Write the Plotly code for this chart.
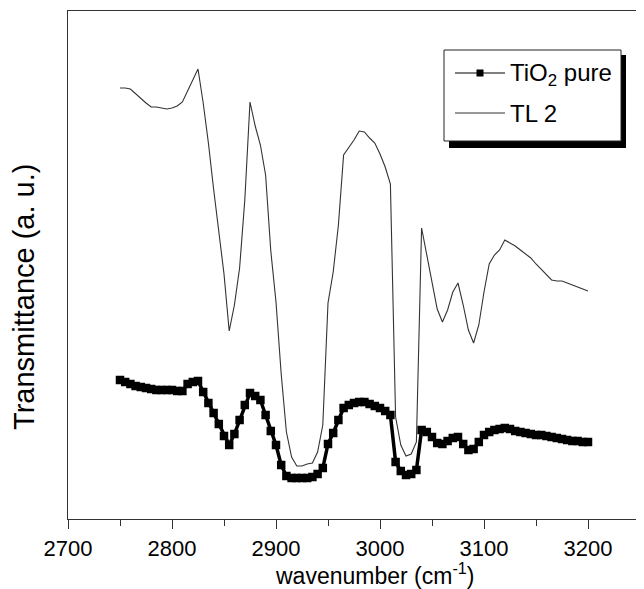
import plotly.graph_objects as go

# ---- data ----
wavenumber = list(range(2750, 3201, 5))

tio2_pure = [
    27.8, 27.4, 27.0, 26.6, 26.4, 26.2, 26.0, 25.8, 25.8, 25.8,
    25.8, 25.6, 25.6, 27.0, 27.4, 27.6, 25.4, 23.2, 21.2, 19.0,
    16.6, 14.8, 17.0, 19.8, 22.8, 25.2, 24.6, 23.8, 20.8, 17.6,
    14.8, 10.8, 8.6, 8.2, 8.2, 8.2, 8.2, 8.4, 9.0, 10.2,
    15.0, 17.2, 19.8, 22.2, 22.8, 23.2, 23.4, 23.4, 23.0, 22.6,
    22.2, 21.6, 20.8, 11.4, 9.6, 8.8, 9.0, 9.8, 17.8, 17.4,
    16.4, 15.2, 15.0, 15.6, 16.2, 16.4, 15.0, 13.8, 14.0, 15.4,
    16.8, 17.4, 17.8, 18.0, 18.2, 18.0, 17.6, 17.4, 17.2, 17.0,
    16.8, 16.8, 16.6, 16.4, 16.2, 16.0, 15.8, 15.6, 15.6, 15.4,
    15.4,
]

tl2 = [
    86.2, 86.2, 86.0, 85.0, 84.0, 83.2, 82.4, 82.4, 82.2, 82.0,
    82.2, 82.6, 83.4, 85.6, 87.8, 90.0, 83.2, 75.2, 66.0, 57.2,
    49.0, 37.6, 42.8, 50.2, 63.8, 83.4, 78.6, 74.8, 68.8, 53.6,
    43.4, 29.0, 17.4, 12.4, 10.6, 10.6, 11.0, 11.2, 13.4, 18.8,
    43.2, 49.4, 58.8, 72.8, 74.2, 75.8, 77.6, 77.4, 76.2, 75.2,
    73.0, 70.4, 67.0, 20.4, 14.8, 12.6, 13.0, 15.4, 58.2, 53.0,
    47.8, 42.0, 39.4, 41.8, 45.4, 47.2, 42.8, 37.8, 35.2, 38.8,
    45.4, 51.0, 52.8, 53.8, 55.8, 55.2, 54.6, 53.8, 53.0, 52.2,
    51.0, 50.0, 49.0, 47.8, 47.6, 47.6, 47.2, 46.8, 46.4, 46.0,
    45.6,
]

series_names = ["TiO<sub>2</sub> pure", "TL 2"]
x_tick_values = [2700, 2800, 2900, 3000, 3100, 3200]
x_tick_labels = ["2700", "2800", "2900", "3000", "3100", "3200"]
x_range = [2700, 3250]
y_range = [0, 101.6]

FONT = "Liberation Sans, Arial, sans-serif"
AXIS_COLOR = "#333333"

# The page body has an 8px margin, so the figure is sized to fit the 644x589 window.
BODY = 8
W, H = 644 - BODY, 589 - BODY
ML, MR, MT, MB = 60, 4, 3, 70
PW, PH = W - ML - MR, H - MT - MB


def pxx(page_x):
    """page pixel x -> paper x"""
    return (page_x - BODY - ML) / PW


def pxy(page_y):
    """page pixel y -> paper y"""
    return (H + BODY - MB - page_y) / PH


fig = go.Figure()
fig.add_trace(go.Scatter(
    x=wavenumber, y=tio2_pure, name=series_names[0],
    mode="lines+markers",
    line=dict(color="black", width=3.5),
    marker=dict(symbol="square", size=8.5, color="black", line=dict(width=0)),
    showlegend=False,
))
fig.add_trace(go.Scatter(
    x=wavenumber, y=tl2, name=series_names[1],
    mode="lines",
    line=dict(color=AXIS_COLOR, width=1.1),
    showlegend=False,
))

# ---- legend box (drawn as a framed box with a drop shadow) ----
leg_rows = [73, 113]
shapes = [
    dict(type="rect", xref="paper", yref="paper",
         x0=pxx(449), x1=pxx(626), y0=pxy(148), y1=pxy(55),
         fillcolor="black", line=dict(width=0), layer="above"),
    dict(type="rect", xref="paper", yref="paper",
         x0=pxx(444), x1=pxx(621), y0=pxy(141), y1=pxy(50),
         fillcolor="white", line=dict(color="#222222", width=1), layer="above"),
]
for i, ry in enumerate(leg_rows):
    shapes.append(dict(type="line", xref="paper", yref="paper",
                       x0=pxx(455), x1=pxx(505), y0=pxy(ry), y1=pxy(ry),
                       line=dict(color="black" if i == 0 else AXIS_COLOR, width=1.1),
                       layer="above"))
shapes.append(dict(type="rect", xref="paper", yref="paper",
                   x0=pxx(476.5), x1=pxx(483.5), y0=pxy(76.5), y1=pxy(69.5),
                   fillcolor="black", line=dict(width=0), layer="above"))

annotations = [
    dict(text=series_names[i], xref="paper", yref="paper",
         x=pxx(508), y=pxy(ry + 1), xanchor="left", yanchor="middle",
         showarrow=False, font=dict(family=FONT, size=24, color="black"))
    for i, ry in enumerate(leg_rows)
]
annotations += [
    dict(text="wavenumber (cm<sup>-1</sup>)", xref="paper", yref="paper",
         x=pxx(374), y=pxy(574), xanchor="center", yanchor="middle",
         showarrow=False, font=dict(family=FONT, size=23, color="black")),
    dict(text="Transmittance (a. u.)", xref="paper", yref="paper",
         x=pxx(24), y=pxy(297), xanchor="center", yanchor="middle",
         textangle=-90, showarrow=False,
         font=dict(family=FONT, size=29, color="black")),
]

fig.update_layout(
    width=W, height=H,
    margin=dict(l=ML, r=MR, t=MT, b=MB, pad=0),
    paper_bgcolor="white", plot_bgcolor="white",
    showlegend=False,
    xaxis=dict(
        range=x_range, tickmode="array", tickvals=x_tick_values, ticktext=x_tick_labels,
        ticks="outside", ticklen=9, tickwidth=1.3, tickcolor=AXIS_COLOR,
        showline=True, linecolor=AXIS_COLOR, linewidth=1.3, mirror=True,
        showgrid=False, zeroline=False,
        tickfont=dict(family=FONT, size=22, color="black"),
        minor=dict(ticks="outside", ticklen=6, tickwidth=1.3, tickcolor=AXIS_COLOR,
                   tickmode="linear", tick0=2750, dtick=100, showgrid=False),
    ),
    yaxis=dict(
        range=y_range, showticklabels=False, ticks="",
        showline=True, linecolor=AXIS_COLOR, linewidth=1.3, mirror=True,
        showgrid=False, zeroline=False,
    ),
    shapes=shapes,
    annotations=annotations,
)

fig.write_html("out.html")
